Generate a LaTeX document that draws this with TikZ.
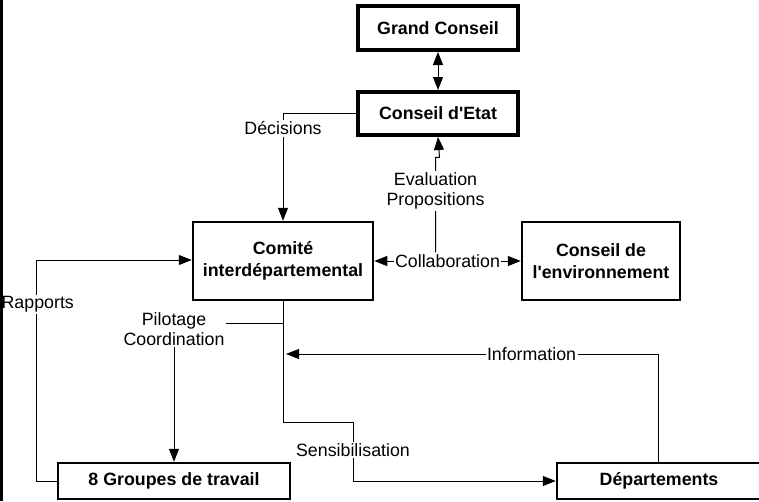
\documentclass[tikz,border=0pt]{standalone}
\usepackage{fontspec}
\setmainfont{Liberation Sans}
\usetikzlibrary{positioning,arrows.meta}

\begin{document}
\begin{tikzpicture}[
  x=1pt, y=-1pt,
  organe/.style={draw, line width=2.5pt, inner sep=0pt, align=center,
    font=\fontsize{17.8}{22}\selectfont\bfseries},
  organefort/.style={organe, line width=4pt},
  lbl/.style={fill=white, inner sep=1.5pt, align=center,
    font=\fontsize{17.8}{20}\selectfont},
  flux/.style={line width=1pt},
  >={Triangle[length=13pt,width=10pt]}
]
  \useasboundingbox (0,0) rectangle (759,501);

  \node[organefort, minimum width=160pt, minimum height=44pt] (gc) at (438,28) {Grand Conseil};
  \node[organefort, minimum width=160pt, minimum height=43pt] (etat) at (438,113.5) {Conseil d\textquotesingle Etat};
  \node[organe, minimum width=180pt, minimum height=78pt] (comite) at (283,261) {Comité\\interdépartemental};
  \node[organe, minimum width=158pt, minimum height=78pt] (env) at (601,261) {Conseil de\\l\textquotesingle environnement};
  \node[organe, minimum width=232pt, minimum height=36pt] (groupes) at (174,481) {8 Groupes de travail};
  \node[organe, minimum width=204pt, minimum height=36pt] (dep) at (659,481) {Départements};
  \coordinate (infobout) at (286,354);

  \draw[flux, <->] (gc) -- (etat);
  \draw[flux, ->] (etat.west) -| node[lbl, pos=0.57] {Décisions} (comite.north);
  \draw[flux, <->] (comite.east) -- node[lbl] (collab) {Collaboration} (env.west);
  \draw[flux, ->] ([xshift=-12pt]collab.north) -- node[lbl, pos=0.65] {Evaluation\\Propositions}
    ++(0,-95) -- ++(4,0) -- (etat.south);
  \draw[flux, ->] (groupes.west) -- ++(-20,0) |- node[lbl, pos=0.4, xshift=1pt] {Rapports} ([yshift=1pt]comite.west);
  \draw[flux, ->] (comite.south) -- ++(0,22) -| node[lbl, pos=0.52] {Pilotage\\Coordination} (groupes.north);
  \draw[flux, ->] (comite.south) -- ++(0,121) -- ++(70,0) |- node[lbl, pos=0.24] {Sensibilisation} (dep.west);
  \draw[flux, ->] ([xshift=-1pt]dep.north) |- node[lbl, pos=0.67] {Information} (infobout);

  \draw[line width=2.5pt] (1.25,0) -- (1.25,501);
\end{tikzpicture}
\end{document}
